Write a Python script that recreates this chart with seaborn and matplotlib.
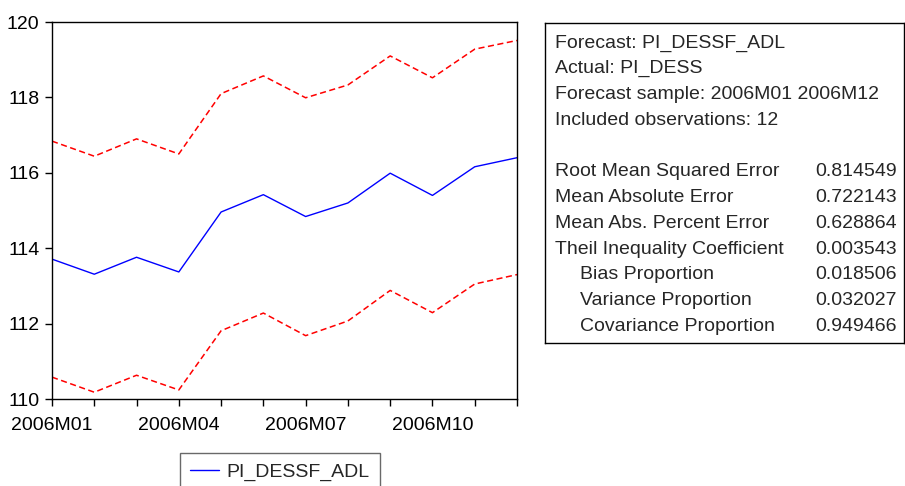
import matplotlib
matplotlib.use("Agg")
import matplotlib.pyplot as plt
import seaborn as sns
import pandas as pd

months = ["2006M01", "2006M02", "2006M03", "2006M04", "2006M05", "2006M06",
          "2006M07", "2006M08", "2006M09", "2006M10", "2006M11", "2006M12"]
forecast = [113.71, 113.31, 113.76, 113.37, 114.96, 115.42,
            114.84, 115.20, 115.99, 115.40, 116.16, 116.40]
upper = [116.84, 116.44, 116.90, 116.50, 118.10, 118.57,
         117.99, 118.33, 119.10, 118.52, 119.28, 119.51]
lower = [110.58, 110.18, 110.63, 110.24, 111.81, 112.28,
         111.68, 112.07, 112.88, 112.29, 113.05, 113.30]

stat_labels = ["Root Mean Squared Error", "Mean Absolute Error",
               "Mean Abs. Percent Error", "Theil Inequality Coefficient",
               "Bias Proportion", "Variance Proportion", "Covariance Proportion"]
stat_values = ["0.814549", "0.722143", "0.628864", "0.003543",
               "0.018506", "0.032027", "0.949466"]
header_lines = ["Forecast: PI_DESSF_ADL", "Actual: PI_DESS",
                "Forecast sample: 2006M01 2006M12", "Included observations: 12"]

sns.set_style("white")
plt.rcParams['font.family'] = ['Liberation Sans', 'DejaVu Sans']

W, H = 905, 486
fig = plt.figure(figsize=(W / 100, H / 100), dpi=100)

def fx(px):
    return px / W

def fy(py):
    return 1 - py / H

ax = fig.add_axes([fx(52), fy(399), fx(517) - fx(52), fy(22) - fy(399)])

df = pd.DataFrame({"t": range(len(months)), "forecast": forecast,
                   "upper": upper, "lower": lower})

sns.lineplot(data=df, x="t", y="forecast", ax=ax, color="#0000ff",
             linewidth=1.0, label="PI_DESSF_ADL")
sns.lineplot(data=df, x="t", y="upper", ax=ax, color="#ff0000",
             linewidth=1.1, linestyle=(0, (4, 2.3)), label="_nolegend_")
sns.lineplot(data=df, x="t", y="lower", ax=ax, color="#ff0000",
             linewidth=1.1, linestyle=(0, (4, 2.3)), label="_nolegend_")

ax.set_xlim(0, len(months) - 1)
ax.set_ylim(110, 120)
ax.set_xticks(range(len(months)))
ax.set_xticklabels([m if i % 3 == 0 else "" for i, m in enumerate(months)])
ax.set_yticks([110, 112, 114, 116, 118, 120])
ax.set_xlabel("")
ax.set_ylabel("")
ax.tick_params(axis="both", direction="out", length=5, width=1, color="black",
               labelsize=14, labelcolor="black", bottom=True, left=True)
ax.tick_params(axis="x", pad=8)
ax.tick_params(axis="y", pad=4)
for s in ax.spines.values():
    s.set_visible(True)
    s.set_color("black")
    s.set_linewidth(1.0)

leg = ax.legend(loc="upper center", bbox_to_anchor=(0.49, -0.143), frameon=True,
                fancybox=False, fontsize=14, handlelength=1.5, borderpad=0.55,
                handletextpad=0.35, borderaxespad=0)
leg.get_frame().set_edgecolor("#444444")
leg.get_frame().set_linewidth(1.0)

# statistics box
bx = fig.add_axes([fx(545), fy(343), fx(904) - fx(545), fy(23) - fy(343)])
bx.set_xticks([])
bx.set_yticks([])
bx.set_xlim(545, 904)
bx.set_ylim(343, 23)
for s in bx.spines.values():
    s.set_visible(True)
    s.set_color("black")
    s.set_linewidth(1.0)

fs = 14
y0 = 43
dy = 25.7
for i, line in enumerate(header_lines):
    bx.text(555, y0 + i * dy, line, fontsize=fs, va="center", ha="left")
y1 = 172
for i, (lab, val) in enumerate(zip(stat_labels, stat_values)):
    xl = 555 if i < 4 else 580
    bx.text(xl, y1 + i * dy, lab, fontsize=fs, va="center", ha="left")
    bx.text(897, y1 + i * dy, val, fontsize=fs, va="center", ha="right")

fig.savefig("out.png", dpi=100)
